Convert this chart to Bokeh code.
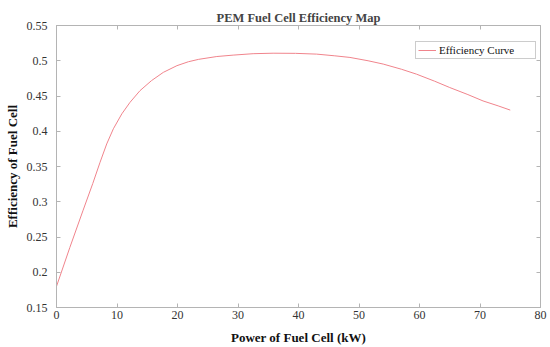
from bokeh.plotting import figure
from bokeh.models import LinearAxis, Legend, LegendItem, FixedTicker, Range1d, CustomLabelingPolicy
from bokeh.embed import file_html
from bokeh.resources import INLINE

# Data
power_kw = [0, 2.2, 4.4, 6.0, 7.2, 8.3, 9.4, 10.8, 12.15, 13.8, 15.7, 17.65, 19.9,
            21.8, 23.5, 26.5, 29.2, 32.5, 35.8, 39.5, 43.0, 46.0, 48.5, 51.5, 54.0,
            57.0, 59.5, 62.5, 65.0, 68.0, 70.5, 73.0, 75.0]
efficiency = [0.180, 0.235, 0.288, 0.326, 0.356, 0.382, 0.4035, 0.4247, 0.441, 0.4576,
              0.4718, 0.4835, 0.493, 0.4986, 0.502, 0.506, 0.508, 0.510, 0.5107,
              0.5105, 0.5094, 0.507, 0.5047, 0.500, 0.4953, 0.488, 0.481, 0.471,
              0.462, 0.452, 0.443, 0.436, 0.430]
x_ticks = [0, 10, 20, 30, 40, 50, 60, 70, 80]
y_ticks = [0.15, 0.2, 0.25, 0.3, 0.35, 0.4, 0.45, 0.5, 0.55]

FONT = "Liberation Serif, Times New Roman, serif"
AXIS_COLOR = "#b4b4b4"
LINE_COLOR = "#f0848c"

p = figure(width=550, height=347, output_backend="svg", toolbar_location=None,
           x_range=Range1d(0, 80), y_range=Range1d(0.15, 0.55),
           min_border_left=56, min_border_right=10, min_border_top=25, min_border_bottom=40)
p.grid.visible = False
p.outline_line_color = AXIS_COLOR

p.title.text = "PEM Fuel Cell Efficiency Map"
p.title.align = "center"
p.title.text_font = FONT
p.title.text_font_size = "12.5px"
p.title.text_font_style = "bold"
p.title.standoff = 1
p.title.offset = 0

r = p.line(power_kw, efficiency, line_color=LINE_COLOR, line_width=1)

for ax in [p.xaxis[0], p.yaxis[0]]:
    ax.axis_line_color = AXIS_COLOR
    ax.major_tick_line_color = AXIS_COLOR
    ax.major_tick_in = 4
    ax.major_tick_out = 0
    ax.minor_tick_line_color = None
    ax.major_label_text_font = FONT
    ax.major_label_text_font_size = "12px"
    ax.major_label_text_color = "#333333"
    ax.axis_label_text_font = FONT
    ax.axis_label_text_font_size = "13px"
    ax.axis_label_text_font_style = "bold"
    ax.axis_label_text_color = "#111111"

p.xaxis[0].ticker = FixedTicker(ticks=x_ticks)
p.yaxis[0].ticker = FixedTicker(ticks=y_ticks)
p.yaxis[0].major_label_overrides = {v: ("%g" % v) for v in y_ticks}
p.xaxis[0].axis_label = "Power of Fuel Cell (kW)"
p.yaxis[0].axis_label = "Efficiency of Fuel Cell"
p.xaxis[0].major_label_standoff = 3
p.xaxis[0].axis_label_standoff = 8
p.yaxis[0].major_label_standoff = 9
p.yaxis[0].axis_label_standoff = 4

top_axis = LinearAxis(ticker=FixedTicker(ticks=x_ticks), major_label_text_font_size="0px",
                      major_label_policy=CustomLabelingPolicy(code="return []"),
                      major_tick_in=4, major_tick_out=0, minor_tick_line_color=None,
                      axis_line_color=AXIS_COLOR, major_tick_line_color=AXIS_COLOR,
                      major_label_standoff=0)
right_axis = LinearAxis(ticker=FixedTicker(ticks=y_ticks), major_label_text_font_size="0px",
                        major_label_policy=CustomLabelingPolicy(code="return []"),
                        major_tick_in=4, major_tick_out=0, minor_tick_line_color=None,
                        axis_line_color=AXIS_COLOR, major_tick_line_color=AXIS_COLOR,
                        major_label_standoff=0)
p.add_layout(top_axis, "above")
p.add_layout(right_axis, "right")

legend = Legend(items=[LegendItem(label="Efficiency Curve", renderers=[r])],
                location=(359, 248))
legend.label_text_font = FONT
legend.label_text_font_size = "11px"
legend.label_text_color = "#111111"
legend.border_line_color = "#999999"
legend.border_line_width = 1
legend.background_fill_alpha = 1
legend.margin = 0
legend.padding = 2
legend.spacing = 0
legend.glyph_width = 18
legend.glyph_height = 12
legend.label_height = 12
legend.label_width = 94
legend.label_standoff = 3
p.add_layout(legend, "center")

open("out.html", "w").write(file_html(p, INLINE))
